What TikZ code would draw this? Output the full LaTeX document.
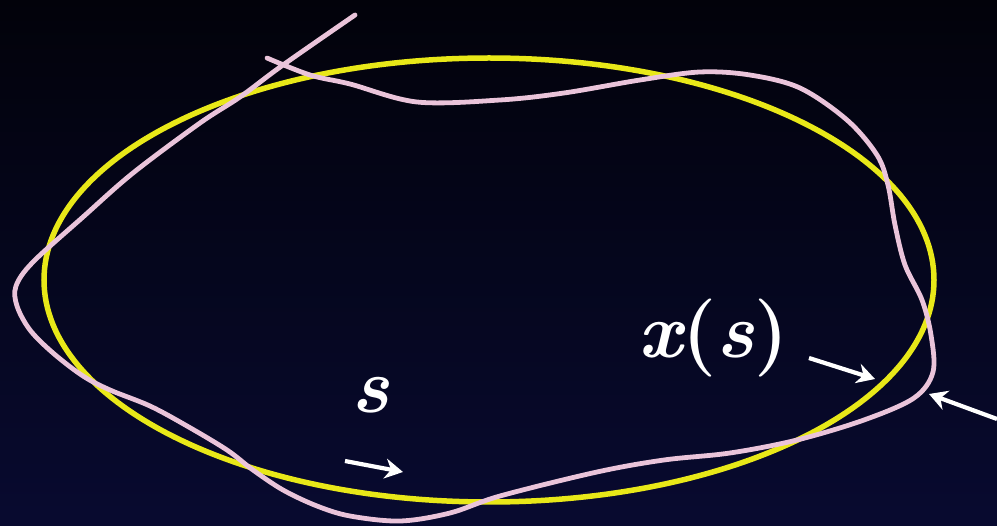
\documentclass[tikz,border=0pt]{standalone}
\usepackage{fontspec}
\usetikzlibrary{arrows.meta}
\definecolor{bgtop}{RGB}{2,2,10}
\definecolor{bgbot}{RGB}{8,10,48}
\definecolor{ellyellow}{RGB}{232,232,24}
\definecolor{curvepink}{RGB}{234,196,218}
\tikzset{
  ellline/.style={draw=ellyellow, line width=5.5pt},
  pinkline/.style={draw=curvepink, line width=4.8pt, line cap=round, line join=round},
  whitearrow/.style={draw=white, line width=4.2pt, -{Stealth[length=18pt,width=20pt]}},
  lbl/.style={text=white, font=\fontsize{78}{82}\selectfont\bfseries, inner sep=0pt}
}
\begin{document}
\begin{tikzpicture}[x=1pt,y=-1pt]
\shade[top color=bgtop, bottom color=bgbot] (0,0) rectangle (997,526);
\useasboundingbox (0,0) rectangle (997,526);
% yellow ellipse
\draw[ellline] (489,280) ellipse [x radius=445, y radius=222];
% pink perturbed curve
\draw[pinkline] plot[smooth, tension=0.55] coordinates {
 (267,58) (310,75) (350,84) (417,102) (500,100) (564,93) (640,80) (700,72)
 (750,75) (800,88) (847,120) (877,155) (888,185) (895,225) (905,265)
 (922,300) (931,335) (933,372) (914,398) (864,420) (797,440) (730,453)
 (664,460) (597,472) (500,496) (450,513) (400,521) (350,516) (317,506)
 (283,490) (253,470) (227,450) (187,426) (150,406) (110,390) (83,376)
 (53,353) (30,330) (17,306) (16,286) (33,262) (83,217) (133,173)
 (200,123) (240,97) (283,65) (355,15)};
% labels
\node[lbl] (s) at (370,395) {\itshape s};
\node[lbl] (xs) at (714,338) {\itshape x\upshape(\itshape s\/\upshape)};
% arrows
\coordinate (a1s) at (345,461);
\coordinate (a1e) at (403,472);
\coordinate (a2s) at (809,358);
\coordinate (a2e) at (875,379);
\coordinate (a3s) at (997,419);
\coordinate (a3e) at (929,394);
\draw[whitearrow] (a1s) -- (a1e);
\draw[whitearrow] (a2s) -- (a2e);
\draw[whitearrow] (a3s) -- (a3e);
\end{tikzpicture}
\end{document}
